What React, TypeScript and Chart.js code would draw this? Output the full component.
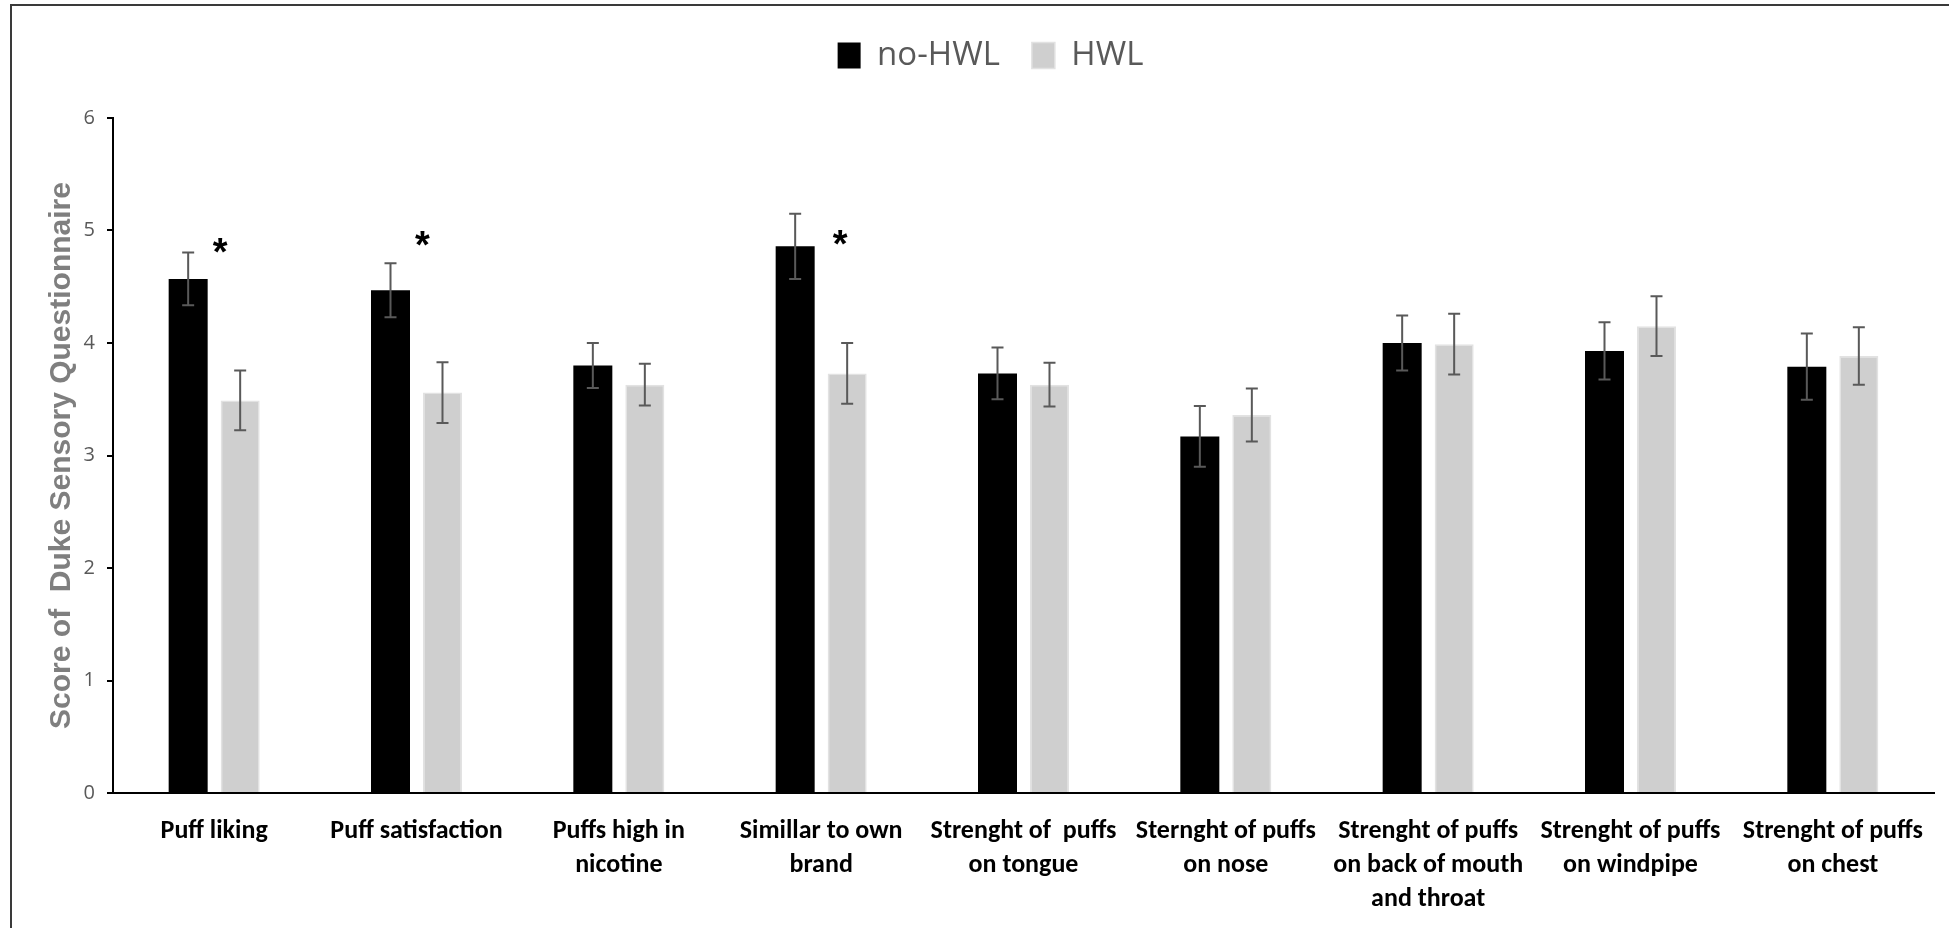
import React, { useEffect, useRef } from 'react';
import { Chart, registerables } from 'chart.js';

Chart.register(...registerables);

const categories: (string | string[])[] = [
  'Puff liking',
  'Puff satisfaction',
  ['Puffs high in', 'nicotine'],
  ['Simillar to own', 'brand'],
  ['Strenght of  puffs', 'on tongue'],
  ['Sternght of puffs', 'on nose'],
  ['Strenght of puffs', 'on back of mouth', 'and throat'],
  ['Strenght of puffs', 'on windpipe'],
  ['Strenght of puffs', 'on chest'],
];
const seriesNames = ['no-HWL', 'HWL'];
const noHwlMeans = [4.57, 4.47, 3.8, 4.86, 3.73, 3.17, 4.0, 3.93, 3.79];
const noHwlErrors = [0.235, 0.24, 0.2, 0.29, 0.23, 0.27, 0.245, 0.255, 0.295];
const hwlMeans = [3.49, 3.56, 3.63, 3.73, 3.63, 3.36, 3.99, 4.15, 3.885];
const hwlErrors = [0.265, 0.27, 0.185, 0.27, 0.195, 0.235, 0.27, 0.265, 0.255];
const yTicks = [0, 1, 2, 3, 4, 5, 6];
const yTitle = 'Score of  Duke Sensory Questionnaire';
// significance markers: category index and the value level of the star
const starCategories = [0, 1, 3];
const starValues = [4.87, 4.93, 4.94];
const starText = '*';

const framePlugin = {
  id: 'frame',
  beforeDraw(chart: any) {
    const ctx = chart.ctx;
    ctx.save();
    ctx.fillStyle = '#ffffff';
    ctx.fillRect(0, 0, chart.width, chart.height);
    ctx.strokeStyle = '#3a3a3a';
    ctx.lineWidth = 2;
    ctx.beginPath();
    ctx.moveTo(11, 928);
    ctx.lineTo(11, 5);
    ctx.lineTo(chart.width, 5);
    ctx.stroke();
    ctx.restore();
  },
};

const legendFitPlugin = {
  id: 'legendFit',
  beforeInit(chart: any) {
    const lg = chart.legend;
    if (lg) {
      const orig = lg.fit;
      lg.fit = function () {
        orig.call(this);
        this.height = 111;
      };
    }
  },
};

const errorBarPlugin = {
  id: 'errorBars',
  afterDatasetsDraw(chart: any) {
    const ctx = chart.ctx;
    const y = chart.scales.y;
    ctx.save();
    ctx.strokeStyle = '#595959';
    ctx.lineWidth = 2;
    chart.data.datasets.forEach((ds: any, i: number) => {
      const meta = chart.getDatasetMeta(i);
      meta.data.forEach((el: any, j: number) => {
        const v = ds.data[j];
        const e = ds.errors[j];
        const top = y.getPixelForValue(v + e);
        const bot = y.getPixelForValue(v - e);
        const x = el.x;
        ctx.beginPath();
        ctx.moveTo(x, top);
        ctx.lineTo(x, bot);
        ctx.moveTo(x - 6, top);
        ctx.lineTo(x + 6, top);
        ctx.moveTo(x - 6, bot);
        ctx.lineTo(x + 6, bot);
        ctx.stroke();
      });
    });
    ctx.restore();
  },
};

const starPlugin = {
  id: 'stars',
  afterDatasetsDraw(chart: any, _args: any, opts: any) {
    const ctx = chart.ctx;
    const xs = chart.scales.x;
    const ys = chart.scales.y;
    ctx.save();
    ctx.fillStyle = '#000';
    ctx.font = "bold 38px 'Liberation Sans', Arial, sans-serif";
    ctx.textAlign = 'center';
    ctx.textBaseline = 'alphabetic';
    const m = ctx.measureText(starText);
    const asc = m.actualBoundingBoxAscent;
    const desc = m.actualBoundingBoxDescent;
    starCategories.forEach((c, k) => {
      const x = xs.getPixelForValue(c) + (opts.dx?.[k] ?? 0);
      const yc = ys.getPixelForValue(starValues[k]);
      const base = yc - (desc - asc) / 2;
      ctx.fillText(starText, x, base);
    });
    ctx.restore();
  },
};

export default function App() {
  const ref = useRef<HTMLCanvasElement>(null);
  useEffect(() => {
    const canvas = ref.current!;
    const chart = new Chart(canvas, {
      type: 'bar',
      data: {
        labels: categories as any,
        datasets: [
          {
            label: seriesNames[0],
            data: noHwlMeans,
            backgroundColor: '#000000',
            borderColor: '#000000',
            borderWidth: 0,
            categoryPercentage: 0.514,
            barPercentage: 0.75,
            errors: noHwlErrors,
          } as any,
          {
            label: seriesNames[1],
            data: hwlMeans,
            backgroundColor: '#cfcfcf',
            borderColor: '#e2e2e2',
            borderWidth: 1.5,
            categoryPercentage: 0.514,
            barPercentage: 0.75,
            errors: hwlErrors,
          } as any,
        ],
      },
      options: {
        responsive: false,
        animation: false,
        devicePixelRatio: 1,
        layout: { padding: { left: 47, right: 15, top: 7, bottom: 0 } },
        plugins: {
          legend: {
            position: 'top',
            labels: {
              boxWidth: 23,
              boxHeight: 26,
              padding: 32,
              color: '#595959',
              font: { family: "'Open Sans', 'Noto Sans', sans-serif", size: 33, weight: 'normal' },
            },
          },
          tooltip: { enabled: false },
          stars: { dx: [6, 6, 19] },
        } as any,
        scales: {
          x: {
            grid: { display: false, drawTicks: false },
            border: { display: true, color: '#000000', width: 2 },
            ticks: {
              color: '#000000',
              font: {
                family: "Carlito, 'Liberation Sans Narrow', 'DejaVu Sans Condensed', sans-serif",
                weight: 'bold',
                size: 26,
                lineHeight: 34 / 26,
              },
              padding: 21,
              maxRotation: 0,
              minRotation: 0,
              autoSkip: false,
            },
            afterFit: (s: any) => {
              s.height = 135;
            },
          },
          y: {
            min: 0,
            max: 6,
            afterBuildTicks: (s: any) => {
              s.ticks = yTicks.map((v) => ({ value: v }));
            },
            grid: { drawOnChartArea: false, drawTicks: true, tickLength: 6, color: '#000000', lineWidth: 2 },
            border: { display: true, color: '#000000', width: 2 },
            ticks: {
              color: '#595959',
              font: { family: "'Open Sans', 'Noto Sans', sans-serif", size: 20, weight: 'normal' },
              padding: 12,
            },
            title: {
              display: true,
              text: yTitle,
              color: '#7f7f7f',
              font: { family: "'Liberation Sans', Arial, sans-serif", weight: 'bold', size: 30, lineHeight: 1 },
              padding: 0,
            },
            afterFit: (s: any) => {
              s.width = 66;
            },
          },
        },
      },
      plugins: [framePlugin, legendFitPlugin, errorBarPlugin, starPlugin],
    });
    return () => chart.destroy();
  }, []);
  return (
    <div style={{ position: 'absolute', left: 0, top: 0, width: 1949, height: 928, background: '#fff' }}>
      <canvas ref={ref} width={1949} height={928} style={{ display: 'block', width: 1949, height: 928 }} />
    </div>
  );
}
